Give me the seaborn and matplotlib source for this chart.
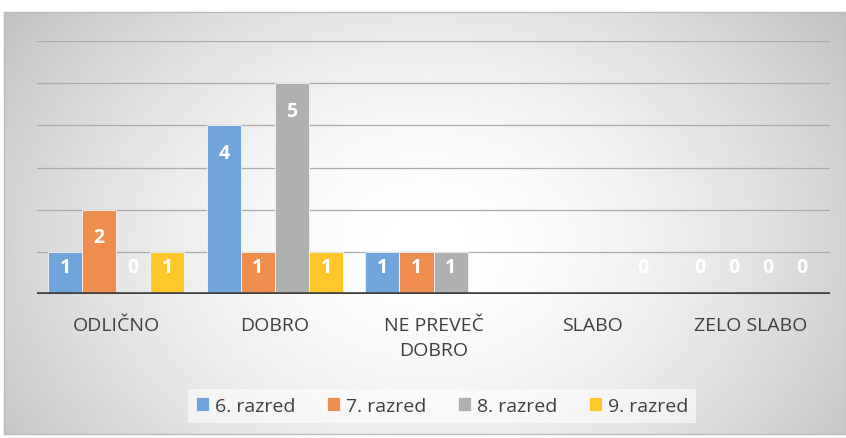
import numpy as np
import pandas as pd
import matplotlib.pyplot as plt
import seaborn as sns

kategorije = ["ODLIČNO", "DOBRO", "NE PREVEČ\nDOBRO", "SLABO", "ZELO SLABO"]
razredi = ["6. razred", "7. razred", "8. razred", "9. razred"]
r6 = [1, 4, 1, np.nan, 0]
r7 = [2, 1, 1, np.nan, 0]
r8 = [0, 5, 1, np.nan, 0]
r9 = [1, 1, np.nan, 0, 0]
barve = ["#6fa5da", "#ef8d4e", "#b0b0b0", "#ffc72a"]

rows = []
for razred, vals in zip(razredi, [r6, r7, r8, r9]):
    for kat, v in zip(kategorije, vals):
        rows.append({"kategorija": kat, "razred": razred, "vrednost": v})
df = pd.DataFrame(rows)

sns.set_style("white")
plt.rcParams["font.family"] = ["Open Sans", "DejaVu Sans"]

fig = plt.figure(figsize=(8.46, 4.39), dpi=100)

# radial gradient background
bg = fig.add_axes([4 / 846, 4 / 439, 842 / 846, 422 / 439])
yy, xx = np.mgrid[0:1:300j, 0:1:600j]
r = np.sqrt(((xx - 0.5) / 0.62) ** 2 + ((yy - 0.55) / 0.95) ** 2)
shade = 1.0 - 0.25 * np.clip(r, 0, 1) ** 1.7
bg.imshow(shade, cmap="gray", vmin=0, vmax=1, aspect="auto", extent=[0, 1, 0, 1])
bg.set_xticks([])
bg.set_yticks([])
for s in bg.spines.values():
    s.set_color("#bdbdbd")
    s.set_linewidth(1)

ax = fig.add_axes([37 / 846, 1 - 295 / 439, 793 / 846, 253 / 439])
ax.patch.set_alpha(0)
ax.set_ylim(0, 6)
for g in range(1, 7):
    ax.axhline(g, color="#acacac", lw=0.9, zorder=0)

sns.barplot(data=df, x="kategorija", y="vrednost", hue="razred", order=kategorije,
            hue_order=razredi, palette=barve, saturation=1, width=0.86,
            edgecolor="#f4f4f4", linewidth=0.6, ax=ax, zorder=2)
ax.axhline(0, color="#3f3f3f", lw=2.6, zorder=3)

for cont in ax.containers:
    for bar in cont:
        h = bar.get_height()
        if np.isnan(h):
            continue
        x = bar.get_x() + bar.get_width() / 2
        y = max(h - 0.66, 0.64)
        ax.text(x, y, f"{int(h)}", ha="center", va="center", color="white",
                fontsize=14, fontweight="bold", zorder=4)

ax.set_xlim(-0.5, 4.5)
ax.set_yticks([])
ax.set_xlabel("")
ax.set_ylabel("")
ax.tick_params(axis="x", length=0, pad=16, labelsize=14, labelcolor="#404040")
for lbl in ax.get_xticklabels():
    lbl.set_linespacing(1.5)
for s in ax.spines.values():
    s.set_visible(False)

leg = ax.legend(loc="center", bbox_to_anchor=(442 / 846, 1 - 407 / 439),
                bbox_transform=fig.transFigure, ncol=4, frameon=True, fontsize=14,
                handlelength=0.7, handleheight=0.7, handletextpad=0.3, columnspacing=1.6,
                borderpad=0.4, fancybox=False)
leg.get_frame().set_facecolor("white")
leg.get_frame().set_alpha(0.55)
leg.get_frame().set_linewidth(0)
for t in leg.get_texts():
    t.set_color("#404040")

fig.savefig("out.png", dpi=100)
